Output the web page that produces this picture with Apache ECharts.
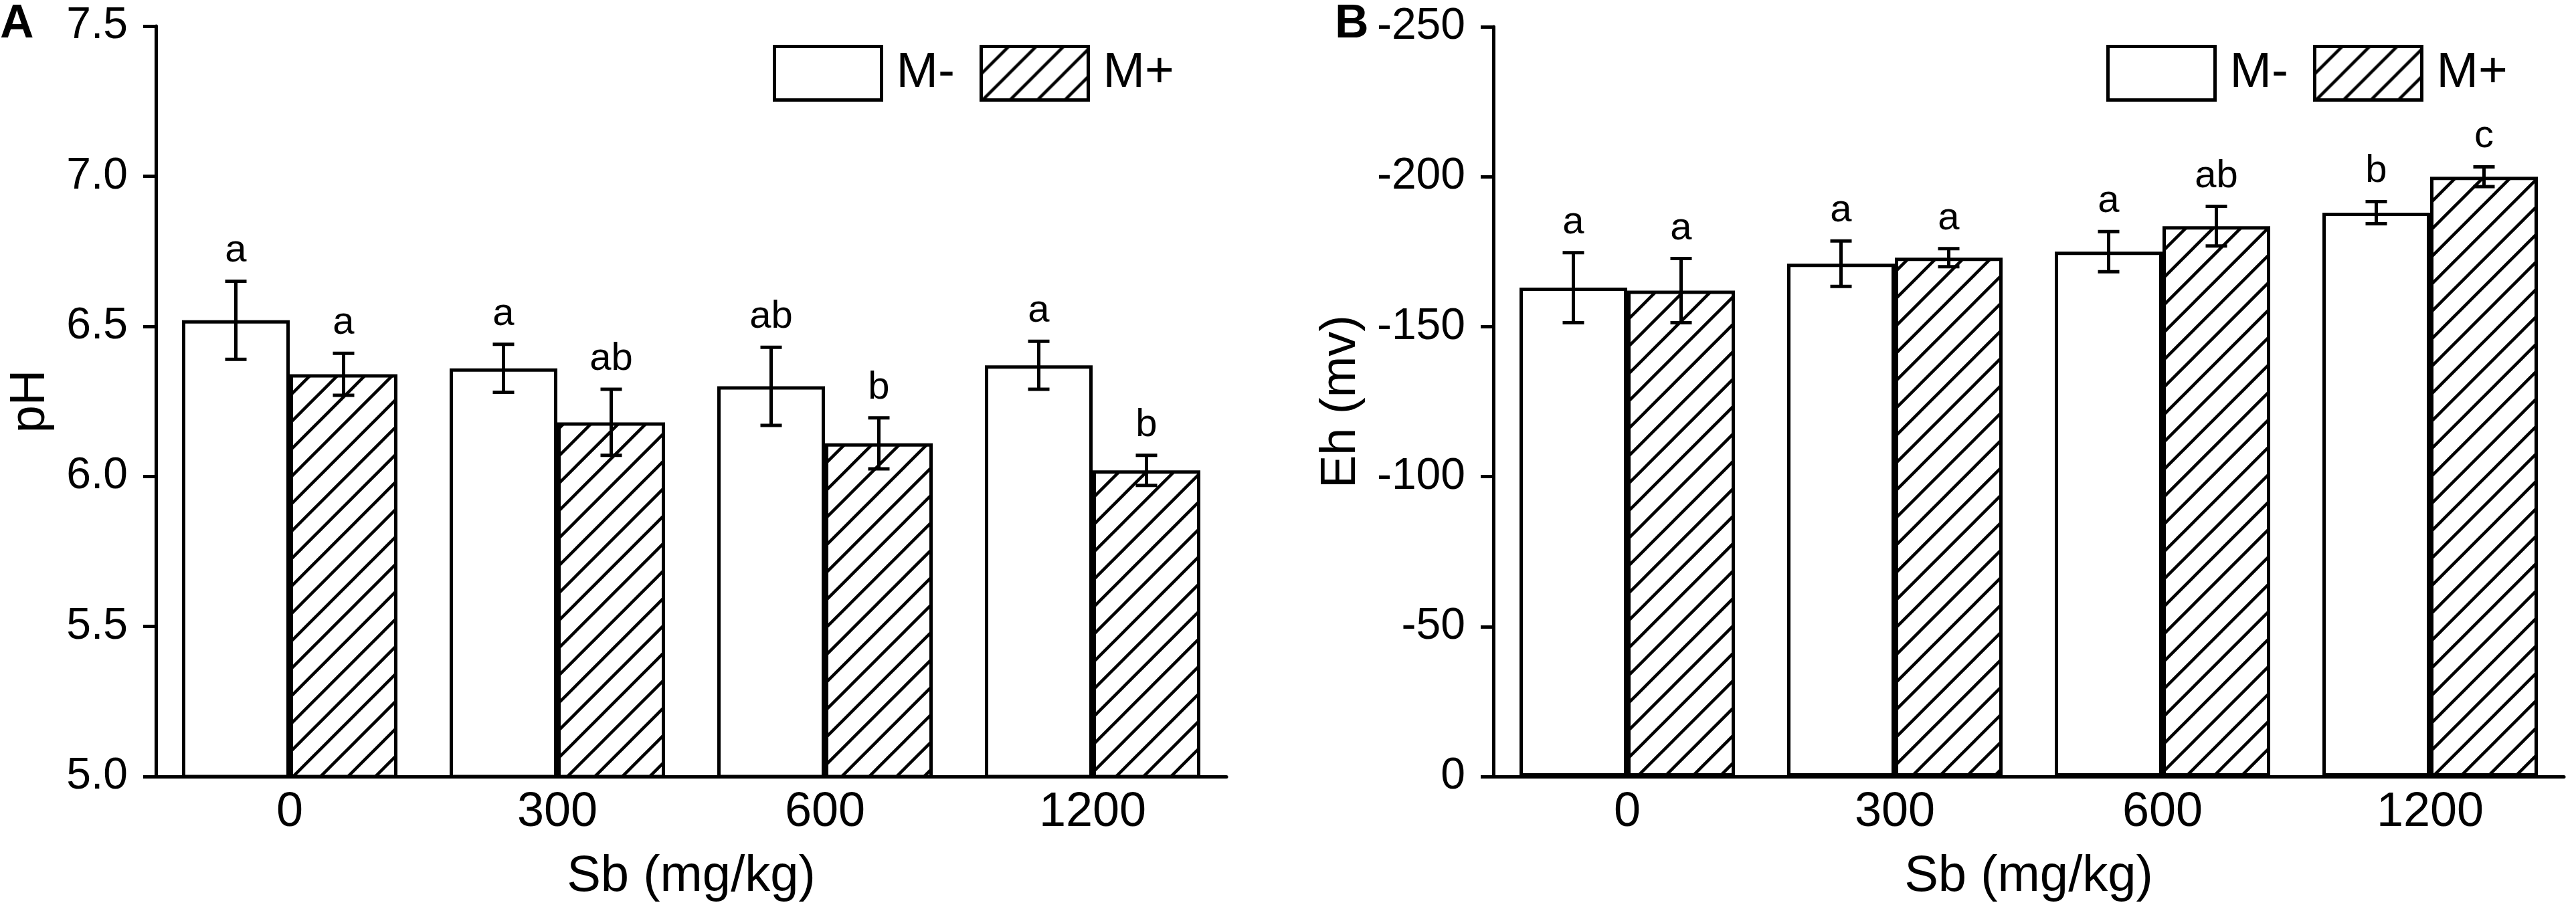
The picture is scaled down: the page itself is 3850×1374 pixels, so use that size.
<!DOCTYPE html>
<html>
<head>
<meta charset="utf-8">
<script src="https://cdn.jsdelivr.net/npm/echarts@6/dist/echarts.min.js"></script>
<style>
  html, body { margin: 0; padding: 0; background: #fff; }
  #main { width: 3850px; height: 1374px; }
</style>
</head>
<body>
<div id="main"></div>
<script>
// data
var categories = ['0', '300', '600', '1200'];

var phMinus = [6.52, 6.36, 6.30, 6.37];
var phMinusErr = [0.13, 0.08, 0.13, 0.08];
var phMinusSig = ['a', 'a', 'ab', 'a'];
var phPlus = [6.34, 6.18, 6.11, 6.02];
var phPlusErr = [0.07, 0.11, 0.085, 0.05];
var phPlusSig = ['a', 'ab', 'b', 'b'];

var ehMinus = [-163, -171, -175, -188];
var ehMinusErr = [11.7, 7.6, 6.7, 3.7];
var ehMinusSig = ['a', 'a', 'a', 'b'];
var ehPlus = [-162, -173, -183.5, -200];
var ehPlusErr = [10.7, 3, 6.6, 3.3];
var ehPlusSig = ['a', 'a', 'ab', 'c'];

var phTicks = { min: 5, max: 7.5, interval: 0.5 };
var ehTicks = { min: -250, max: 0, interval: 50 };

var FONT = '"Liberation Sans", Arial, sans-serif';
var BAR_W = 161;

// diagonal hatch tile
function hatchTile() {
    var s = 41;
    var c = document.createElement('canvas');
    c.width = s; c.height = s;
    var ctx = c.getContext('2d');
    ctx.fillStyle = '#fff';
    ctx.fillRect(0, 0, s, s);
    ctx.strokeStyle = '#000';
    ctx.lineWidth = 4.5;
    [-s, 0, s].forEach(function (k) {
        ctx.beginPath();
        ctx.moveTo(k - 2, s + 2);
        ctx.lineTo(k + s + 2, -2);
        ctx.stroke();
    });
    return c;
}
var hatch = { image: hatchTile(), repeat: 'repeat' };

function errData(vals, errs) {
    return vals.map(function (v, i) { return [i, v, errs[i]]; });
}

function errRender(offset, sig) {
    return function (params, api) {
        var i = api.value(0), v = api.value(1), e = api.value(2);
        var x = api.coord([i, v])[0] + offset;
        var y1 = api.coord([i, v + e])[1];
        var y2 = api.coord([i, v - e])[1];
        var top = Math.min(y1, y2), bot = Math.max(y1, y2);
        var cap = 16;
        var st = { stroke: '#000', lineWidth: 5 };
        return {
            type: 'group',
            children: [
                { type: 'line', shape: { x1: x, y1: top, x2: x, y2: bot }, style: st },
                { type: 'line', shape: { x1: x - cap, y1: top, x2: x + cap, y2: top }, style: st },
                { type: 'line', shape: { x1: x - cap, y1: bot, x2: x + cap, y2: bot }, style: st },
                {
                    type: 'text',
                    style: {
                        x: x, y: top - 16, text: sig[params.dataIndex],
                        fill: '#000', fontSize: 58, fontFamily: FONT,
                        align: 'center', verticalAlign: 'bottom'
                    }
                }
            ]
        };
    };
}

function xAxisFor(gridIndex) {
    return {
        type: 'category', gridIndex: gridIndex, data: categories,
        name: 'Sb (mg/kg)', nameLocation: 'middle', nameGap: 112,
        nameTextStyle: { fontSize: 76, fontFamily: FONT, color: '#000' },
        axisLine: { lineStyle: { color: '#000', width: 5 } },
        axisTick: { alignWithLabel: true, length: 20, lineStyle: { color: '#000', width: 5 } },
        axisLabel: { fontSize: 72, fontFamily: FONT, color: '#000', margin: 18 },
        splitLine: { show: false }
    };
}

function yAxisFor(gridIndex, name, ticks, gap, inverse, fmt) {
    return {
        type: 'value', gridIndex: gridIndex,
        min: ticks.min, max: ticks.max, interval: ticks.interval, inverse: inverse,
        name: name, nameLocation: 'middle', nameGap: gap,
        nameTextStyle: { fontSize: 74, fontFamily: FONT, color: '#000' },
        axisLine: { show: true, lineStyle: { color: '#000', width: 5 } },
        axisTick: { show: true, length: 19, lineStyle: { color: '#000', width: 5 } },
        axisLabel: { fontSize: 66, fontFamily: FONT, color: '#000', margin: 42, formatter: fmt },
        splitLine: { show: false }
    };
}

function barSeries(name, data, xi, fill) {
    return {
        name: name, type: 'bar', xAxisIndex: xi, yAxisIndex: xi,
        data: data, barWidth: BAR_W, barGap: '0%',
        itemStyle: { color: fill, borderColor: '#000', borderWidth: 5 },
        emphasis: { disabled: true }, animation: false
    };
}

function errSeries(vals, errs, sig, xi, offset) {
    return {
        type: 'custom', xAxisIndex: xi, yAxisIndex: xi,
        data: errData(vals, errs), encode: { x: 0, y: 1 },
        renderItem: errRender(offset, sig), z: 10, silent: true, animation: false
    };
}

function legendAt(left) {
    return {
        left: left, top: 67, padding: 0, itemGap: 37,
        itemWidth: 160, itemHeight: 80, icon: 'rect',
        selectedMode: false,
        data: ['M-', 'M+'],
        itemStyle: { borderColor: '#000', borderWidth: 5 },
        textStyle: { fontSize: 75, fontFamily: FONT, color: '#000', padding: [0, 0, 0, 17] }
    };
}

var chart = echarts.init(document.getElementById('main'));

var option = {
    backgroundColor: '#fff',
    animation: false,
    grid: [
        { left: 233, top: 39, width: 1600, height: 1122 },
        { left: 2232, top: 40, width: 1600, height: 1121 }
    ],
    legend: [legendAt(1155), legendAt(3148)],
    graphic: [
        {
            type: 'text', left: 0, top: 2,
            style: { text: 'A', fontSize: 70, fontWeight: 'bold', fontFamily: FONT, fill: '#000' }
        },
        {
            type: 'text', left: 1995, top: 2,
            style: { text: 'B', fontSize: 70, fontWeight: 'bold', fontFamily: FONT, fill: '#000' }
        }
    ],
    xAxis: [xAxisFor(0), xAxisFor(1)],
    yAxis: [
        yAxisFor(0, 'pH', phTicks, 150, false, function (v) { return v.toFixed(1); }),
        yAxisFor(1, 'Eh (mv)', ehTicks, 190, true, function (v) { return String(v); })
    ],
    series: [
        barSeries('M-', phMinus, 0, '#fff'),
        barSeries('M+', phPlus, 0, hatch),
        errSeries(phMinus, phMinusErr, phMinusSig, 0, -BAR_W / 2),
        errSeries(phPlus, phPlusErr, phPlusSig, 0, BAR_W / 2),
        barSeries('M-', ehMinus, 1, '#fff'),
        barSeries('M+', ehPlus, 1, hatch),
        errSeries(ehMinus, ehMinusErr, ehMinusSig, 1, -BAR_W / 2),
        errSeries(ehPlus, ehPlusErr, ehPlusSig, 1, BAR_W / 2)
    ]
};

chart.setOption(option);
</script>
</body>
</html>
